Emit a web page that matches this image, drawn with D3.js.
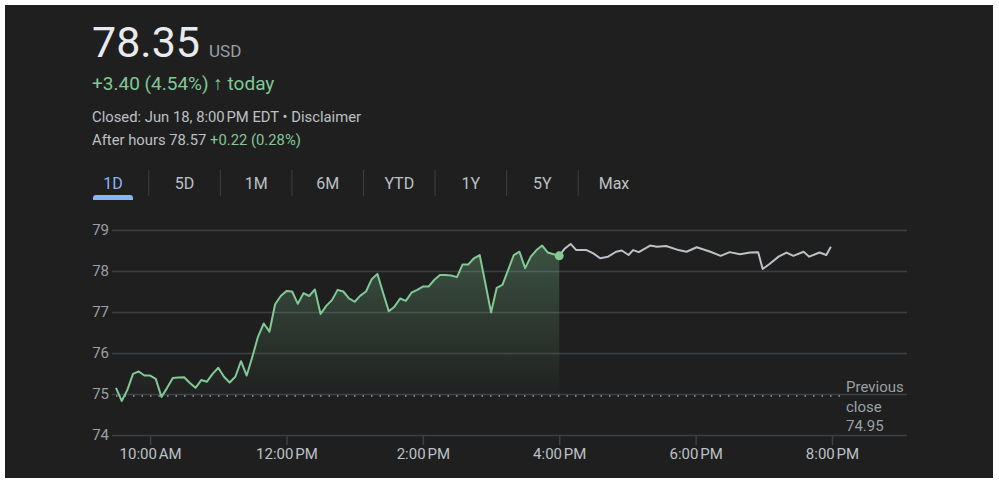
<!DOCTYPE html>
<html><head><meta charset="utf-8">
<script src="https://cdn.jsdelivr.net/npm/d3@7/dist/d3.min.js"></script>
<style>html,body{margin:0;padding:0;background:#fff;}svg{display:block;font-family:Roboto,Arial,sans-serif;}</style>
</head><body><svg id="c" width="999" height="480"></svg>
<script>
// Regular session: one value every 5 minutes from 9:30 AM
const regularValues = [75.15,74.83,75.1,75.49,75.55,75.45,75.45,75.37,74.93,75.15,
75.39,75.40,75.41,75.27,75.15,75.34,75.3,75.49,75.64,75.42,
75.28,75.42,75.8,75.45,75.91,76.4,76.72,76.52,77.19,77.39,
77.51,77.5,77.2,77.46,77.39,77.55,76.95,77.15,77.29,77.54,
77.5,77.33,77.25,77.4,77.5,77.8,77.93,77.47,77.02,77.13,
77.33,77.27,77.47,77.54,77.62,77.62,77.78,77.9,77.9,77.89,
77.85,78.16,78.16,78.31,78.39,77.7,76.99,77.59,77.66,78.02,
78.39,78.47,78.07,78.35,78.51,78.62,78.45,78.41,78.37];
// After hours: minutes after 9:30 AM and value
const afterMinutes = [390,395,400,405,414,420,426,433,440,445,451,455,460,470,476,484,495,502,511,523,532,540,549,558,565,569,575,583,590,596,605,610,619,625,629];
const afterValues = [78.37,78.55,78.66,78.51,78.51,78.43,78.31,78.35,78.47,78.5,78.39,78.51,78.46,78.62,78.59,78.61,78.51,78.47,78.58,78.47,78.37,78.46,78.41,78.45,78.46,78.05,78.17,78.35,78.45,78.37,78.47,78.35,78.45,78.39,78.59];
const previousClose = 74.95;
const yTicks = [74,75,76,77,78,79];
const xTickMinutes = [30,150,270,390,510,630];
const xTickLabels = ["10:00\u202fAM","12:00\u202fPM","2:00\u202fPM","4:00\u202fPM","6:00\u202fPM","8:00\u202fPM"];
const tabs = ["1D","5D","1M","6M","YTD","1Y","5Y","Max"];

const svg = d3.select("#c");
svg.append("rect").attr("x",5).attr("y",5).attr("width",988).attr("height",473).attr("fill","#1f1f1f");

// Header
const t1 = svg.append("text").attr("x",92).attr("y",57).attr("fill","#e8eaed");
t1.append("tspan").attr("font-size",43).text("78.35");
t1.append("tspan").attr("font-size",17).attr("fill","#9aa0a6").attr("dx",9).text("USD");
const ch = svg.append("text").attr("x",92).attr("y",90).attr("fill","#81c995").attr("font-size",19);
ch.append("tspan").text("+3.40 (4.54%) ");
ch.append("tspan").attr("font-weight","bold").text("\u2191");
ch.append("tspan").text(" today");
svg.append("text").attr("x",92).attr("y",122).attr("fill","#bdc1c6").attr("font-size",14.8).text("Closed: Jun 18, 8:00\u202fPM EDT \u2022 Disclaimer");
const ah = svg.append("text").attr("x",92).attr("y",145).attr("fill","#bdc1c6").attr("font-size",14.8);
ah.append("tspan").text("After hours 78.57 ");
ah.append("tspan").attr("fill","#81c995").text("+0.22 (0.28%)");

// Tabs
const tabX = d3.scalePoint().domain(tabs).range([113,614]);
svg.selectAll(".tab").data(tabs).join("text").attr("x",d=>tabX(d)).attr("y",189)
  .attr("text-anchor","middle").attr("font-size",16)
  .attr("fill",(d,i)=>i===0?"#8ab4f8":"#bdc1c6").text(d=>d);
svg.selectAll(".sep").data(tabs.slice(1)).join("line")
  .attr("x1",d=>tabX(d)-35.8).attr("x2",d=>tabX(d)-35.8).attr("y1",170).attr("y2",196)
  .attr("stroke","#3c4043");
svg.append("path").attr("d","M93,200 L93,198 Q93,195 96,195 L130,195 Q133,195 133,198 L133,200 Z").attr("fill","#8ab4f8");

// Scales
const x = d3.scaleLinear().domain([0,630]).range([116,832]);
const y = d3.scaleLinear().domain([74,79]).range([435,230]);
const gridX0 = 112, gridX1 = 907;

const yAxis = svg.append("g").attr("transform",`translate(${gridX0},0)`)
  .call(d3.axisLeft(y).tickValues(yTicks).tickSize(-(gridX1-gridX0)).tickFormat(d3.format("d")));
yAxis.select(".domain").remove();
yAxis.selectAll("line").attr("stroke","#3c4043").attr("stroke-width",1.5);
yAxis.selectAll("text").attr("fill","#9aa0a6").attr("font-size",15).attr("x",-3).attr("font-family","Roboto");

const xAxis = svg.append("g").attr("transform","translate(0,435)")
  .call(d3.axisBottom(x).tickValues(xTickMinutes).tickSize(10).tickFormat((d,i)=>xTickLabels[i]));
xAxis.select(".domain").remove();
xAxis.selectAll("line").attr("stroke","#3c4043").attr("stroke-width",1.5);
xAxis.selectAll("text").attr("fill","#bdc1c6").attr("font-size",15).attr("y",10).attr("dy","0.9em").attr("font-family","Roboto");

// previous close dotted
svg.append("line").attr("x1",gridX0+4).attr("x2",840).attr("y1",y(previousClose)).attr("y2",y(previousClose))
  .attr("stroke","#9aa0a6").attr("stroke-width",1.5).attr("stroke-dasharray","1.5,7");
const pc = svg.append("text").attr("x",846).attr("fill","#9aa0a6").attr("font-size",15);
["Previous","close","74.95"].forEach((s,i)=>pc.append("tspan").attr("x",846).attr("y",392+i*19.5).text(s));

const reg = regularValues.map((v,i)=>({m:i*5,v}));
const aft = afterMinutes.map((m,i)=>({m,v:afterValues[i]}));

const defs = svg.append("defs");
const g = defs.append("linearGradient").attr("id","gr").attr("x1",0).attr("x2",0).attr("y1",0).attr("y2",1);
g.append("stop").attr("offset","0%").attr("stop-color","#81c995").attr("stop-opacity",0.3);
g.append("stop").attr("offset","100%").attr("stop-color","#81c995").attr("stop-opacity",0.0);

svg.append("path").datum(reg).attr("fill","url(#gr)")
  .attr("d",d3.area().x(d=>x(d.m)).y0(y(previousClose)).y1(d=>y(d.v)));
svg.append("path").datum(aft).attr("fill","none").attr("stroke","#bdc1c6").attr("stroke-width",2)
  .attr("stroke-linejoin","round").attr("d",d3.line().x(d=>x(d.m)).y(d=>y(d.v)));
svg.append("path").datum(reg).attr("fill","none").attr("stroke","#81c995").attr("stroke-width",2)
  .attr("stroke-linejoin","round").attr("d",d3.line().x(d=>x(d.m)).y(d=>y(d.v)));
const last = reg[reg.length-1];
svg.append("circle").attr("cx",x(last.m)).attr("cy",y(last.v)).attr("r",4.5).attr("fill","#81c995");
</script></body></html>
